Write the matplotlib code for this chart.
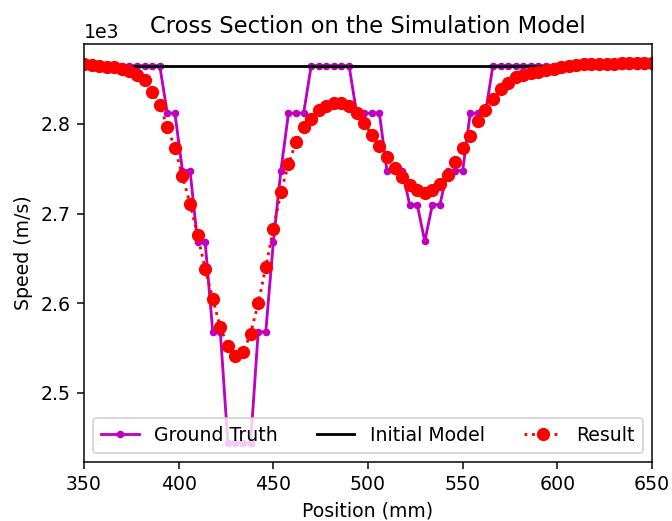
import numpy as np
import matplotlib
matplotlib.use("Agg")
import matplotlib.pyplot as plt

# Position grid (mm)
position = np.arange(350, 651, 4)

# Ground truth speed (m/s), one value per position
ground_truth = (
    [2865] * 11 +                       # 350 .. 390
    [2812, 2812] +                      # 394, 398
    [2748, 2748] +                      # 402, 406
    [2668, 2668] +                      # 410, 414
    [2568, 2568] +                      # 418, 422
    [2444, 2444, 2444, 2444] +          # 426 .. 438
    [2568, 2568] +                      # 442, 446
    [2668] +                            # 450
    [2748] +                            # 454
    [2812, 2812, 2812] +                # 458 .. 466
    [2865] * 6 +                        # 470 .. 490
    [2812] * 4 +                        # 494 .. 506
    [2748] * 3 +                        # 510 .. 518
    [2710, 2710] +                      # 522, 526
    [2669] +                            # 530
    [2710, 2710] +                      # 534, 538
    [2748] * 3 +                        # 542 .. 550
    [2812] * 3 +                        # 554 .. 562
    [2865] * 22                         # 566 .. 650
)

# Initial model speed (m/s)
initial_model = [2865] * len(position)

# Result speed (m/s)
result = [
    2867, 2866, 2865, 2864, 2863, 2861, 2859, 2855, 2849, 2836,   # 350-386
    2821, 2797, 2773, 2742, 2711, 2676, 2638, 2605, 2573, 2552,   # 390-426
    2541, 2545, 2566, 2600, 2640, 2683, 2724, 2755, 2780, 2797,   # 430-466
    2806, 2815, 2820, 2823, 2823, 2820, 2812, 2801, 2788, 2775,   # 470-506
    2763, 2751, 2741, 2732, 2726, 2723, 2726, 2733, 2743, 2758,   # 510-546
    2773, 2787, 2803, 2816, 2828, 2839, 2846, 2852, 2855, 2857,   # 550-586
    2858, 2860, 2861, 2864, 2865, 2866, 2867, 2867, 2867, 2867,   # 590-626
    2867, 2868, 2868, 2868, 2868, 2868,                           # 630-650
]

DPI = 136
fig = plt.figure(figsize=(672 / DPI, 521 / DPI), dpi=DPI)
ax = fig.add_axes([84 / 672, 1 - 462 / 521, (652 - 84) / 672, (462 - 44) / 521])

ax.plot(position, ground_truth, "m.-", label="Ground Truth")
ax.plot(position, initial_model, "k-", label="Initial Model")
ax.plot(position, result, "ro:", label="Result")

ax.set_xlim(350, 650)
ax.ticklabel_format(axis="y", style="sci", scilimits=(0, 0))
ax.set_title("Cross Section on the Simulation Model")
ax.set_xlabel("Position (mm)")
ax.set_ylabel("Speed (m/s)")
ax.legend(loc="lower center", ncol=3, mode="expand")

fig.savefig("out.png", dpi=DPI)
